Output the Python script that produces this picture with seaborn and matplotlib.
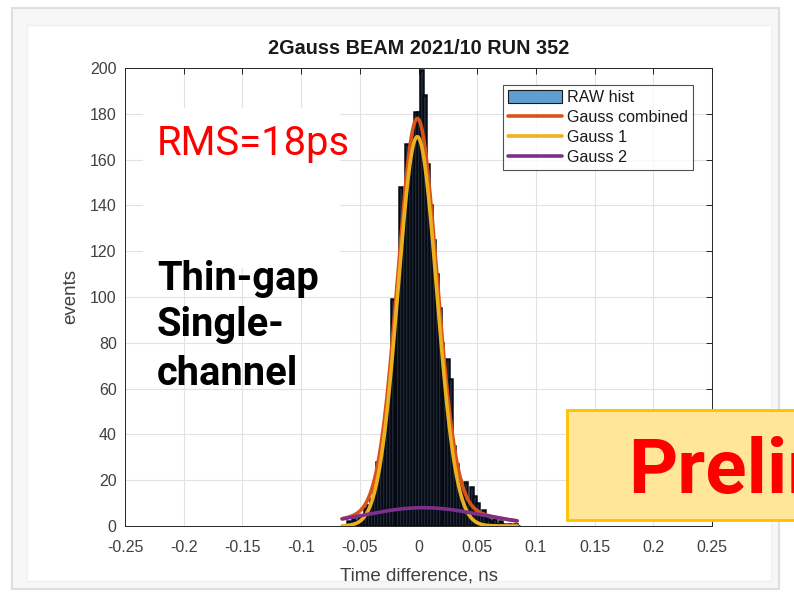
import numpy as np
import pandas as pd
import matplotlib
matplotlib.use("Agg")
import matplotlib.pyplot as plt
import seaborn as sns
from matplotlib.patches import Rectangle, Patch
from matplotlib.lines import Line2D

# ---------------- data ----------------
bin_width = 0.0025
bin_centers = [-0.06, -0.0575, -0.055, -0.0525, -0.05, -0.0475, -0.045, -0.0425, -0.04, -0.0375,
               -0.035, -0.0325, -0.03, -0.0275, -0.025, -0.0225, -0.02, -0.0175, -0.015, -0.0125,
               -0.01, -0.0075, -0.005, -0.0025, 0.0, 0.0025, 0.005, 0.0075, 0.01, 0.0125,
               0.015, 0.0175, 0.02, 0.0225, 0.025, 0.0275, 0.03, 0.0325, 0.035, 0.0375,
               0.04, 0.0425, 0.045, 0.0475, 0.05, 0.0525, 0.055, 0.0575, 0.06, 0.0625,
               0.065, 0.0675, 0.07, 0.0725, 0.075, 0.0775, 0.08, 0.0825, 0.085]
counts = [2, 1, 3, 2, 4, 5, 8, 9, 12, 17,
          28, 30, 39, 50, 61, 99, 90, 105, 148, 135,
          167, 160, 170, 181, 181, 199, 188, 158, 140, 125,
          110, 95, 80, 66, 73, 64, 35, 27, 20, 15,
          19, 11, 17, 13, 10, 6, 7, 4, 3, 2,
          3, 1, 2, 1, 0, 1, 0, 1, 0]

# Gaussian fit parameters: [amplitude, mean (ns), sigma (ns)]
gauss1_params = [170.0, -0.001, 0.0165]
gauss2_params = [8.0, 0.004, 0.050]
fit_range = [-0.065, 0.084]

x_ticks = [-0.25, -0.2, -0.15, -0.1, -0.05, 0, 0.05, 0.1, 0.15, 0.2, 0.25]
x_tick_labels = ["-0.25", "-0.2", "-0.15", "-0.1", "-0.05", "0", "0.05", "0.1", "0.15", "0.2", "0.25"]
y_ticks = [0, 20, 40, 60, 80, 100, 120, 140, 160, 180, 200]

legend_labels = ["RAW hist", "Gauss combined", "Gauss 1", "Gauss 2"]
title = "2Gauss BEAM 2021/10 RUN 352"

# ---------------- style ----------------
sns.set_style("whitegrid")
plt.rcParams["font.family"] = ["Liberation Sans", "DejaVu Sans"]

W, H = 794, 606
fig = plt.figure(figsize=(W / 100, H / 100), dpi=100)
fig.patch.set_facecolor("white")

def fx(px):
    return px / W

def fy(py):
    return 1 - py / H

# screenshot frame
fig.patches.append(Rectangle((fx(12), fy(589)), (779 - 12) / W, (589 - 8) / H, transform=fig.transFigure,
                             facecolor="#f7f7f7", edgecolor="#dedede", lw=1.5, zorder=-2))
fig.patches.append(Rectangle((fx(27), fy(581)), (771 - 27) / W, (581 - 25) / H, transform=fig.transFigure,
                             facecolor="white", edgecolor="#f0f0f0", lw=1.0, zorder=-1))

ax = fig.add_axes([fx(125), fy(526), (712 - 125) / W, (526 - 68) / H])
ax.set_facecolor("white")

df = pd.DataFrame({"t": bin_centers, "n": counts})
lo = bin_centers[0] - bin_width / 2
hi = bin_centers[-1] + bin_width / 2
sns.histplot(data=df, x="t", weights="n", binwidth=bin_width, binrange=(lo, hi), ax=ax,
             color="#5d7fa6", alpha=1.0, edgecolor="#070a12", linewidth=1.8, zorder=2)

xs = np.linspace(fit_range[0], fit_range[1], 400)
g1 = gauss1_params[0] * np.exp(-(xs - gauss1_params[1]) ** 2 / (2 * gauss1_params[2] ** 2))
g2 = gauss2_params[0] * np.exp(-(xs - gauss2_params[1]) ** 2 / (2 * gauss2_params[2] ** 2))
curves = pd.DataFrame({"x": xs, "comb": g1 + g2, "g1": g1, "g2": g2})
sns.lineplot(data=curves, x="x", y="comb", ax=ax, color="#D95319", lw=2.6, zorder=3)
sns.lineplot(data=curves, x="x", y="g1", ax=ax, color="#EDB120", lw=2.6, zorder=4)
sns.lineplot(data=curves, x="x", y="g2", ax=ax, color="#7E2F8E", lw=2.6, zorder=5)

ax.set_xlim(-0.25, 0.25)
ax.set_ylim(0, 200)
ax.set_xticks(x_ticks)
ax.set_xticklabels(x_tick_labels)
ax.set_yticks(y_ticks)
ax.grid(True, color="#e2e2e2", lw=0.8)
ax.set_axisbelow(True)
for s in ax.spines.values():
    s.set_color("#262626")
    s.set_linewidth(0.7)
    s.set_visible(True)
ax.tick_params(direction="in", length=4, width=0.7, color="#262626", top=True, right=True,
               labelsize=11.5, labelcolor="#404040", pad=6)
ax.tick_params(axis="x", pad=10)
ax.set_xlabel("Time difference, ns", fontsize=13.5, color="#404040", labelpad=9)
ax.set_ylabel("events", fontsize=13.5, color="#404040", labelpad=8)
ax.set_title(title, fontsize=14.3, fontweight="bold", color="#1a1a1a", pad=10)

handles = [Patch(facecolor="#5f9fd4", edgecolor="#1a1a1a", lw=0.8),
           Line2D([], [], color="#D95319", lw=2.6),
           Line2D([], [], color="#EDB120", lw=2.6),
           Line2D([], [], color="#7E2F8E", lw=2.6)]
leg = ax.legend(handles, legend_labels, loc="upper right", bbox_to_anchor=((693 - 125) / 587, (526 - 85) / 458),
                borderaxespad=0, fontsize=11.6, frameon=True, fancybox=False, handlelength=3.4,
                handleheight=0.9, handletextpad=0.3, labelspacing=0.3, borderpad=0.3)
leg.get_frame().set_edgecolor("#262626")
leg.get_frame().set_linewidth(0.8)
for t in leg.get_texts():
    t.set_color("#1a1a1a")

# overlay annotations
fig.patches.append(Rectangle((fx(143), fy(268)), (340 - 143) / W, (268 - 108) / H, transform=fig.transFigure,
                             facecolor="white", edgecolor="none", zorder=5))
fig.text(fx(157), fy(155), "RMS=18ps", fontsize=28.7, color="#ff0000", family=["Roboto", "DejaVu Sans"],
         va="baseline", ha="left", zorder=6)
for line, base in zip(["Thin-gap", "Single-", "channel"], [290, 336, 385]):
    fig.text(fx(157), fy(base), line, fontsize=28.7, color="black", fontweight="bold",
             family=["Roboto", "DejaVu Sans"], va="baseline", ha="left", zorder=6)

fig.patches.append(Rectangle((fx(567), fy(520)), (820 - 567) / W, (520 - 410) / H, transform=fig.transFigure,
                             facecolor="#ffe699", edgecolor="#ffc000", lw=2.0, zorder=5))
fig.text(fx(628), fy(492), "Preliminary", fontsize=55, color="#ff0000", fontweight="bold",
         family=["Roboto", "DejaVu Sans"], va="baseline", ha="left", zorder=6)

fig.savefig("out.png", dpi=100)
